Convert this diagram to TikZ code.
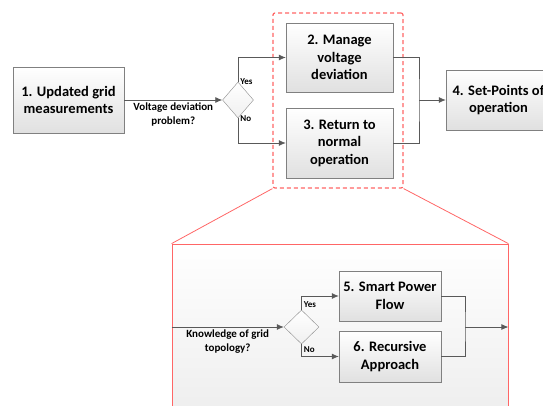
\documentclass[tikz,border=0pt]{standalone}
\usepackage{fontspec}
\setmainfont{Carlito}
\usetikzlibrary{shapes.geometric,shadows,arrows.meta}
\begin{document}
\begin{tikzpicture}[x=1pt,y=-1pt]
\tikzstyle{block} = [draw=black!50, top color=white, bottom color=black!12, drop shadow={shadow xshift=1pt, shadow yshift=-1pt, opacity=.25}, align=center, inner sep=0pt, font=\fontsize{14.5}{17.5}\selectfont\bfseries]
\tikzstyle{decision} = [diamond, draw=black!45, top color=white, bottom color=black!6, inner sep=0pt, minimum width=31pt, minimum height=36pt]
\tikzstyle{link} = [draw=black!65, line width=0.8pt]
\tikzstyle{flow} = [link, -{Latex[length=7pt,width=6pt]}]
\tikzstyle{qtext} = [align=center, inner sep=2pt, font=\fontsize{11}{14}\selectfont\bfseries]
\tikzstyle{yesno} = [inner sep=2pt, font=\fontsize{9}{10}\selectfont\bfseries]
	\useasboundingbox (0,0) rectangle (543,406);
	\clip (0,0) rectangle (543,406);
	% zoomed part
	\node[draw=red!60, line width=0.8pt, top color=white, bottom color=black!7, minimum width=336pt, minimum height=176pt] (detail) at (340,332) {};
	\node[draw=red!60, line width=1.2pt, dash pattern=on 4pt off 3pt, rounded corners=2pt, minimum width=130pt, minimum height=175pt] (group) at (338,100.5) {};
	\draw[red!60, line width=0.8pt] (group.south west) -- (detail.north west);
	\draw[red!60, line width=0.8pt] (group.south east) -- (detail.north east);
	% main flow
	\node[block, minimum width=111pt, minimum height=66pt] (measure) at (68.5,100) {1. Updated grid\\measurements};
	\node[decision] (check) at (238,100) {};
	\node[block, minimum width=107pt, minimum height=69pt] (manage) at (339.5,57.5) {2. Manage\\voltage\\deviation};
	\node[block, minimum width=107pt, minimum height=70pt] (normal) at (339.5,143) {3. Return to\\normal\\operation};
	\node[block, minimum width=105pt, minimum height=60pt] (setpoints) at (498.5,100) {4. Set-Points of\\operation};
	\coordinate (merge) at (419,100);
	\draw[flow] (measure) -- (check) node[midway, below, qtext] {Voltage deviation\\problem?};
	\draw[flow] (check.north) |- (manage.west) node[pos=0, right, yesno] {Yes};
	\draw[flow] (check.south) |- (normal.west) node[pos=0, right, yesno] {No};
	\draw[link] (manage.east) -| (merge) |- (normal.east);
	\draw[flow] (merge) -- (setpoints);
	% detail flow
	\coordinate (entry) at (detail.west |- 0,327);
	\coordinate (exit) at (detail.east |- 0,327);
	\node[decision, minimum width=35pt, minimum height=34pt] (topo) at (301.5,327) {};
	\node[block, minimum width=102pt, minimum height=50pt] (spf) at (390,296) {5. Smart Power\\Flow};
	\node[block, minimum width=102pt, minimum height=51pt] (recursive) at (390,356.5) {6. Recursive\\Approach};
	\coordinate (join) at (465,327);
	\draw[flow] (entry) -- (topo) node[midway, below, qtext] {Knowledge of grid\\topology?};
	\draw[flow] (topo.north) |- (spf.west) node[pos=0, above right, yesno] {Yes};
	\draw[flow] (topo.south) |- (recursive.west) node[pos=0, below right, yesno] {No};
	\draw[link] (spf.east) -| (join) |- (recursive.east);
	\draw[flow] (join) -- (exit);
\end{tikzpicture}
\end{document}
